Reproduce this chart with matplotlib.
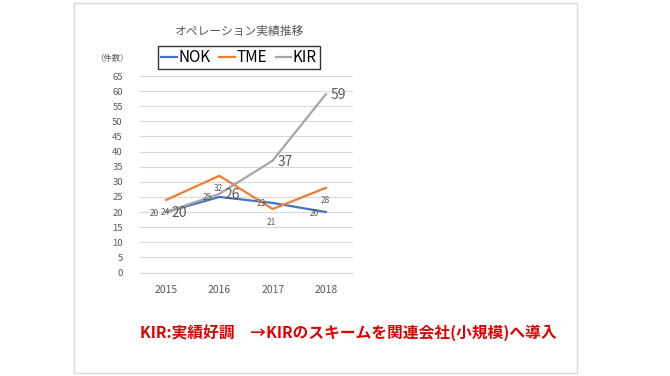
import matplotlib
matplotlib.use("Agg")
import matplotlib.pyplot as plt
from matplotlib.patches import Rectangle

plt.rcParams["font.family"] = ["Noto Sans CJK JP", "DejaVu Sans"]

# Chart data
years = ["2015", "2016", "2017", "2018"]
nok = [20, 25, 23, 20]
tme = [24, 32, 21, 28]
kir = [20, 26, 37, 59]
y_ticks = list(range(0, 70, 5))

BLUE = "#4472C4"
ORANGE = "#ED7D31"
GRAY = "#A5A5A5"
TEXT = "#595959"
GRID = "#D9D9D9"

W, H = 670, 376
fig = plt.figure(figsize=(W / 100, H / 100), dpi=100)

# outer frame of the pasted chart
fig.patches.append(Rectangle((74 / W, 1 - 373 / H), (577 - 74) / W, (373 - 3) / H,
                             transform=fig.transFigure, fill=False,
                             edgecolor=GRID, linewidth=1.0))

ax = fig.add_axes([139.5 / W, 1 - 272.5 / H, 213 / W, 196.5 / H])
x = list(range(len(years)))

(l1,) = ax.plot(x, nok, color=BLUE, lw=1.6, label="NOK")
(l2,) = ax.plot(x, tme, color=ORANGE, lw=1.6, label="TME")
(l3,) = ax.plot(x, kir, color=GRAY, lw=1.6, label="KIR")

ax.set_xlim(-0.5, len(years) - 0.5)
ax.set_ylim(0, 65)
ax.set_yticks(y_ticks)
ax.set_xticks(x, years)
ax.tick_params(length=0, labelsize=6.8, colors=TEXT)
ax.tick_params(axis="x", labelsize=7.5, pad=9)
ax.tick_params(axis="y", pad=12)
ax.grid(axis="y", color=GRID, lw=0.8)
ax.set_axisbelow(True)
for s in ["top", "right", "left"]:
    ax.spines[s].set_visible(False)
ax.spines["bottom"].set_color(GRID)

# data labels
for xi, v in zip(x, nok):
    ax.annotate(str(v), (xi, v), xytext=(-7, -1), textcoords="offset pixels",
                ha="right", va="center", fontsize=6, color=TEXT)
for xi, v in zip(x, tme):
    ax.annotate(str(v), (xi, v), xytext=(-1, -13), textcoords="offset pixels",
                ha="center", va="center", fontsize=6, color=TEXT)
for xi, v in zip(x, kir):
    ax.annotate(str(v), (xi, v), xytext=(5, -1), textcoords="offset pixels",
                ha="left", va="center", fontsize=10, color=TEXT)

fig.text(240 / W, 1 - 31 / H, "オペレーション実績推移", ha="center", va="center",
         fontsize=8.5, color=TEXT)
fig.text(112 / W, 1 - 58 / H, "（件数）", ha="center", va="center",
         fontsize=6, color=TEXT)

leg = fig.legend(handles=[l1, l2, l3], loc="center", bbox_to_anchor=(239 / W, 1 - 57.5 / H),
                 ncol=3, frameon=True, fancybox=False, fontsize=11,
                 handlelength=1.0, handletextpad=0.1, columnspacing=0.6,
                 borderpad=0.2, labelcolor="#000000")
leg.get_frame().set_edgecolor("black")
leg.get_frame().set_linewidth(1.0)

fig.text(348 / W, 1 - 333 / H, "KIR:実績好調　→KIRのスキームを関連会社(小規模)へ導入",
         ha="center", va="center", fontsize=11.3, fontweight="bold", color="#E00000")

fig.savefig("out.png", dpi=100)
